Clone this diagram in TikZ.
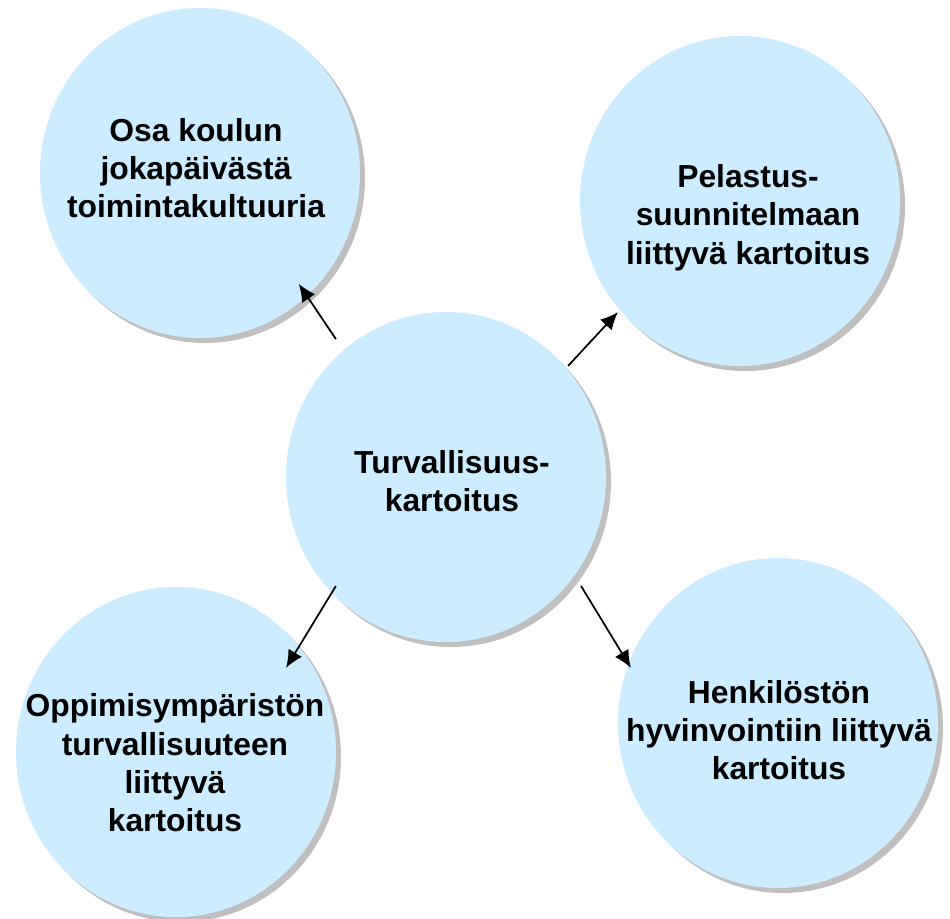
\documentclass[tikz,border=0pt]{standalone}
\usepackage{fontspec}
\setmainfont{Liberation Sans}
\usetikzlibrary{arrows.meta,%
                shapes.geometric,%
                shadows,%
                calc}
\definecolor{bubblefill}{RGB}{204,236,255}

\begin{document}
\begin{tikzpicture}[>={Latex[length=10pt,width=9pt]}]
  \tikzset{bubble/.style = {ellipse, fill = bubblefill,
                            minimum width = 6.4cm, minimum height = 6.6cm,
                            inner sep = 0pt,
                            drop shadow = {shadow xshift = 0.1cm,
                                           shadow yshift = -0.1cm,
                                           fill = gray!50, opacity = 1}}}
  \tikzset{txt/.style = {align = center,
                         font = \bfseries\fontsize{18.1}{21.8}\selectfont}}
  \tikzset{EdgeStyle/.style = {->, line width = 1pt}}
  \useasboundingbox (0,0) rectangle (19,-18.36);

  \node[bubble, label = {[txt, shift = {(-0.08,0.10)}]center:Osa koulun\\jokapäivästä\\toimintakultuuria}]
        (osa) at (4.00,-3.46) {};
  \node[bubble, label = {[txt, shift = {(0.16,-0.33)}]center:Pelastus-\\suunnitelmaan\\liittyvä kartoitus}]
        (pelastus) at (14.80,-4.02) {};
  \node[bubble, label = {[txt, shift = {(0.12,-0.08)}]center:Turvallisuus-\\kartoitus}]
        (turva) at (8.92,-9.54) {};
  \node[bubble, label = {[txt, shift = {(-0.02,-0.22)}]center:Oppimisympäristön\\turvallisuuteen\\liittyvä\\kartoitus}]
        (oppimis) at (3.52,-15.04) {};
  \node[bubble, label = {[txt, shift = {(0.02,-0.14)}]center:Henkilöstön\\hyvinvointiin liittyvä\\kartoitus}]
        (henkilo) at (15.56,-14.46) {};

  %\draw[EdgeStyle] (turva) -- (osa);
  \draw[EdgeStyle] ($(turva)+(128.6:3.53)$) -- ($(osa)+(-48.3:2.97)$);
  \draw[EdgeStyle] ($(turva)+(42.3:3.30)$) -- ($(pelastus)+(222.3:3.30)$);

  \draw[EdgeStyle] ($(turva)+(224.7:3.10)$) -- ($(oppimis)+(37.4:2.77)$);
  \draw[EdgeStyle] ($(turva)+(-38.9:3.47)$) -- ($(henkilo)+(159.5:3.14)$);
\end{tikzpicture}
\end{document}
